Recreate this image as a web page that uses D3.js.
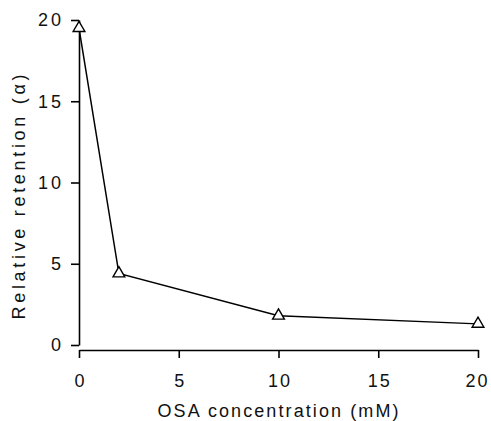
<!DOCTYPE html>
<html>
<head>
<meta charset="utf-8">
<script src="https://cdn.jsdelivr.net/npm/d3@7"></script>
<style>
  body { margin: 0; background: #fff; }
  svg { display: block; }
</style>
</head>
<body>
<svg id="chart"></svg>
<script>
// OSA concentration (mM) vs relative retention
const concentration = [0, 2, 10, 20]
const retention = [19.5, 4.4, 1.8, 1.3]
const xTicks = [0, 5, 10, 15, 20]
const yTicks = [0, 5, 10, 15, 20]

const dimensions = {
	width: 491,
	height: 421,
	margin: { top: 20, right: 13, bottom: 76, left: 79 },
}

const svg = d3.select("#chart")
	.attr("width", dimensions.width)
	.attr("height", dimensions.height)
	.style("font-family", "'Liberation Sans', Arial, sans-serif")

const xScale = d3.scaleLinear()
	.domain([0, 20])
	.range([dimensions.margin.left, dimensions.width - dimensions.margin.right])

const yScale = d3.scaleLinear()
	.domain([0, 20])
	.range([dimensions.height - dimensions.margin.bottom, dimensions.margin.top])

// x axis sits a little below the y axis bottom
const xAxis = d3.axisBottom(xScale)
	.tickValues(xTicks)
	.tickSizeInner(8)
	.tickSizeOuter(0)
	.tickPadding(16)

const xAxisGroup = svg.append("g")
	.attr("transform", `translate(0, ${yScale(0) + 5})`)
	.call(xAxis)

const yAxis = d3.axisLeft(yScale)
	.tickValues(yTicks)
	.tickSizeInner(8)
	.tickSizeOuter(0)
	.tickPadding(10)

const yAxisGroup = svg.append("g")
	.attr("transform", `translate(${xScale(0)}, 0)`)
	.call(yAxis)

svg.selectAll(".domain, .tick line")
	.attr("stroke", "#000")
	.attr("stroke-width", 1.6)

svg.selectAll(".tick text")
	.attr("fill", "#111")
	.attr("font-size", "18px")

yAxisGroup.selectAll(".tick text")
	.style("letter-spacing", "3px")
	.attr("dx", "3px")

xAxisGroup.selectAll(".tick text")
	.style("letter-spacing", "2px")
	.attr("dx", (d, i) => i == xTicks.length - 1 ? "-1px" : "1px")

const points = concentration.map((c, i) => ({ x: c, y: retention[i] }))

const line = d3.line()
	.x(d => xScale(d.x))
	.y(d => yScale(d.y))

svg.append("path")
	.datum(points)
	.attr("d", line)
	.attr("fill", "none")
	.attr("stroke", "#000")
	.attr("stroke-width", 1.5)

svg.append("g")
	.selectAll("path")
	.data(points)
	.enter()
	.append("path")
	.attr("d", d3.symbol(d3.symbolTriangle, 60))
	.attr("transform", d => `translate(${xScale(d.x)}, ${yScale(d.y)})`)
	.attr("fill", "#fff")
	.attr("stroke", "#000")
	.attr("stroke-width", 1.4)

svg.append("text")
	.text("OSA concentration (mM)")
	.attr("x", 278)
	.attr("y", 417)
	.attr("text-anchor", "middle")
	.attr("font-size", "18px")
	.attr("fill", "#111")
	.attr("textLength", 241)
	.attr("lengthAdjust", "spacing")

svg.append("text")
	.text("Relative retention (α)")
	.attr("x", -197)
	.attr("y", 25)
	.attr("text-anchor", "middle")
	.attr("font-size", "18px")
	.attr("fill", "#111")
	.attr("textLength", 245)
	.attr("lengthAdjust", "spacing")
	.attr("transform", "rotate(-90)")
</script>
</body>
</html>
